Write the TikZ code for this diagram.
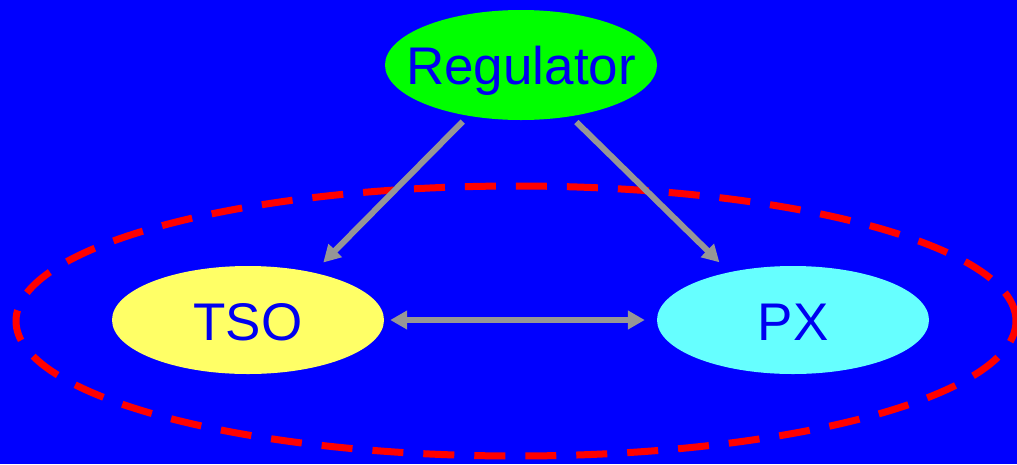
\documentclass[tikz,border=0pt]{standalone}
\usepackage{fontspec}
\setmainfont{Liberation Sans}
\usetikzlibrary{arrows.meta,shapes.geometric}
\definecolor{bgblue}{RGB}{0,0,255}
\definecolor{txtblue}{RGB}{0,0,240}
\definecolor{regfill}{RGB}{0,255,0}
\definecolor{tsofill}{RGB}{255,255,102}
\definecolor{pxfill}{RGB}{102,255,255}
\definecolor{linkgray}{RGB}{150,150,150}
% label of fixed-size ellipse: zero-size box, baseline set below the centre
\newcommand{\partylabel}[2][19pt]{\makebox[0pt]{\smash{\raisebox{-#1}{#2}}}}
\begin{document}
\begin{tikzpicture}[x=1pt,y=-1pt,
  party/.style={ellipse,draw=none,inner sep=0pt,minimum width=272pt,minimum height=110pt,
    font=\fontsize{53}{53}\selectfont,text=txtblue},
  link/.style={draw=linkgray,line width=6pt,-{Triangle[length=17pt,width=18pt]}},
  market/.style={draw=red,line width=7pt,dash pattern=on 31pt off 20pt}]
  % background
  \fill[bgblue] (0,0) rectangle (1017,464);
  \useasboundingbox (0,0) rectangle (1017,464);
  % market boundary
  \draw[market] (516,321) ellipse [x radius=500pt,y radius=135pt];
  % actors
  \node[party,fill=regfill] (reg) at (521,65) {\partylabel{Regulator}};
  \node[party,fill=tsofill,minimum height=108pt] (tso) at (248,320) {\partylabel[20.5pt]{TSO}};
  \node[party,fill=pxfill,minimum height=108pt] (px) at (793,320) {\partylabel[20.5pt]{PX}};
  % relations
  \draw[link,shorten <=8pt,shorten >=14pt] (reg.224.5) -- (tso.36.6);
  \draw[link,shorten <=8pt,shorten >=14pt] (reg.314.5) -- (px.143.7);
  \draw[link,{Triangle[length=17pt,width=18pt]}-{Triangle[length=17pt,width=18pt]},
        shorten <=6pt,shorten >=12pt] (tso.east) -- (px.west);
\end{tikzpicture}
\end{document}
